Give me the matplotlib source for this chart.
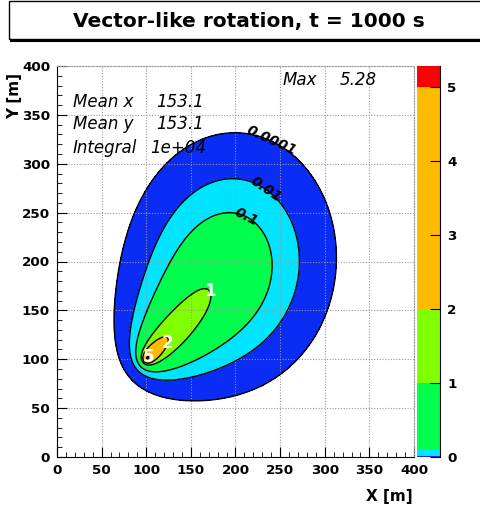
import numpy as np
import matplotlib
matplotlib.use("Agg")
import matplotlib.pyplot as plt
from matplotlib.patches import Rectangle

W, H = 481, 508

title = "Vector-like rotation, t = 1000 s"
stat_names = ["Mean x", "Mean y", "Integral"]
stat_values = ["153.1", "153.1", "1e+04"]
max_label = "5.28"

# puff release: source, centroid, duration, mass
source = [100.0, 100.0]
mean_xy = [153.1, 153.1]
t_release = 1000.0
total_mass = 1.0e4
wind_turn = 10.0          # degrees the wind turned over the release
sig0, sig_end, sig_p = 2.0, 32.0, 0.65
sig_yx = 1.06             # y/x spread ratio (squared) of the oldest puff

levels = [1e-4, 0.01, 0.1, 1.0, 2.0, 5.0]
level_colors = ["#0a2cf5", "#00e5ff", "#00ff4c", "#80ff00", "#ffbb00", "#ff0000"]
label_colors = ["black", "black", "black", "white", "white", "white"]
label_text = ["0.0001", "0.01", "0.1", "1", "2", "5"]
label_pos = [(238, 320), (234, 274), (212, 246), (168, 168), (120, 118), (104, 104)]
zmax = 5.28

# ---------------------------------------------------------------------------
# concentration on 1 m bins: sum of gaussian puffs along a turning path
xc = np.arange(400) + 0.5
yc = np.arange(400) + 0.5
dt = 2.0
age = np.arange(0, t_release, dt) + dt / 2
th = np.deg2rad(wind_turn) / t_release * age
px_ = np.cumsum(np.cos(th)) * dt - np.cos(th) * dt / 2
py_ = np.cumsum(np.sin(th)) * dt - np.sin(th) * dt / 2
mdx, mdy = mean_xy[0] - source[0], mean_xy[1] - source[1]
rot = np.arctan2(mdy, mdx) - np.arctan2(py_.mean(), px_.mean())
scale = np.hypot(mdx, mdy) / np.hypot(px_.mean(), py_.mean())
cx = source[0] + scale * (np.cos(rot) * px_ - np.sin(rot) * py_)
cy = source[1] + scale * (np.sin(rot) * px_ + np.cos(rot) * py_)
sig = sig0 + (sig_end - sig0) * (age / t_release) ** sig_p
f = sig_yx ** (age / t_release)
sx, sy = sig / f, sig * f
w = total_mass / len(age)
gx = np.exp(-(xc[None, :] - cx[:, None]) ** 2 / (2 * sx[:, None] ** 2)) / (np.sqrt(2 * np.pi) * sx[:, None])
gy = np.exp(-(yc[None, :] - cy[:, None]) ** 2 / (2 * sy[:, None] ** 2)) / (np.sqrt(2 * np.pi) * sy[:, None])
conc = (gy.T * w) @ gx


def px(x, y):
    return x / W, 1 - y / H


plt.rcParams['font.family'] = ['DejaVu Sans']
fig = plt.figure(figsize=(W / 100, H / 100), dpi=100)

# title box
x0, y0 = px(9, 39)
fig.patches.append(Rectangle((x0, y0), 1.0, 38 / H, transform=fig.transFigure,
                             fill=False, edgecolor="black", lw=1.0))
fig.add_artist(plt.Line2D([x0 + 2 / W, 1], [y0 - 1.5 / H, y0 - 1.5 / H], transform=fig.transFigure,
                          color="black", lw=1.5))
fig.text(*px(249, 21), title, ha="center", va="center", fontsize=14.5, fontweight="bold")

ax = fig.add_axes([57 / W, 1 - 457 / H, 357 / W, 391 / H])
ax.contourf(xc, yc, conc, levels=levels + [1e9], colors=level_colors)
for lv, txt, col, pos in zip(levels, label_text, label_colors, label_pos):
    cs = ax.contour(xc, yc, conc, levels=[lv], colors="black", linewidths=1.0)
    labs = cs.clabel([lv], manual=[pos], inline=False, fmt={lv: txt}, fontsize=10, colors=[col])
    for t in labs:
        t.set_fontweight("bold")
        if col == "white":
            t.set_fontsize(12)
            t.set_rotation(0)
        else:
            t.set_fontstyle("italic")

ax.set_xlim(0, 400)
ax.set_ylim(0, 400)
ax.set_xticks(np.arange(0, 401, 50))
ax.set_yticks(np.arange(0, 401, 50))
ax.set_xticks(np.arange(0, 401, 10), minor=True)
ax.set_yticks(np.arange(0, 401, 10), minor=True)
ax.tick_params(which="both", direction="in", labelsize=9.7)
ax.tick_params(which="major", length=7)
ax.tick_params(which="minor", length=3.5)
ax.tick_params(axis="x", pad=5)
ax.tick_params(axis="y", pad=5)
for lab in ax.get_xticklabels() + ax.get_yticklabels():
    lab.set_fontweight("bold")
ax.grid(True, which="major", color="#999999", ls=(0, (1, 1.5)), lw=0.8)
for s in ["top", "right"]:
    ax.spines[s].set_color("#999999")
    ax.spines[s].set_linestyle((0, (1, 1.5)))

fig.text(*px(413, 496), "X [m]", ha="right", va="center", fontsize=11, fontweight="bold")
fig.text(*px(15, 73), "Y [m]", ha="center", va="top", rotation=90, fontsize=11, fontweight="bold")

stat_y = [102, 124, 148]
stat_vx = [156, 156, 150]
for n, v, yy, vx in zip(stat_names, stat_values, stat_y, stat_vx):
    fig.text(*px(73, yy), n, ha="left", va="center", fontsize=12, style="italic")
    fig.text(*px(vx, yy), v, ha="left", va="center", fontsize=12, style="italic")
fig.text(*px(283, 80), "Max", ha="left", va="center", fontsize=12, style="italic")
fig.text(*px(340, 80), max_label, ha="left", va="center", fontsize=12, style="italic")

# colour scale
cax = fig.add_axes([417 / W, 1 - 457 / H, 23 / W, 391 / H])
bounds = levels + [zmax]
for lo, hi, c in zip(bounds[:-1], bounds[1:], level_colors):
    cax.bar(0.5, hi - lo, bottom=lo, width=1.0, color=c, linewidth=0)
cax.set_xlim(0, 1)
cax.set_ylim(0, zmax)
cax.set_xticks([])
cax.yaxis.tick_right()
cax.set_yticks(range(0, 6))
cax.tick_params(axis="y", direction="in", length=7, labelsize=9.7, width=0.8, pad=5)
for lab in cax.get_yticklabels():
    lab.set_fontweight("bold")
for s in ["top", "left", "bottom"]:
    cax.spines[s].set_visible(False)

fig.savefig("out.png", dpi=100)
